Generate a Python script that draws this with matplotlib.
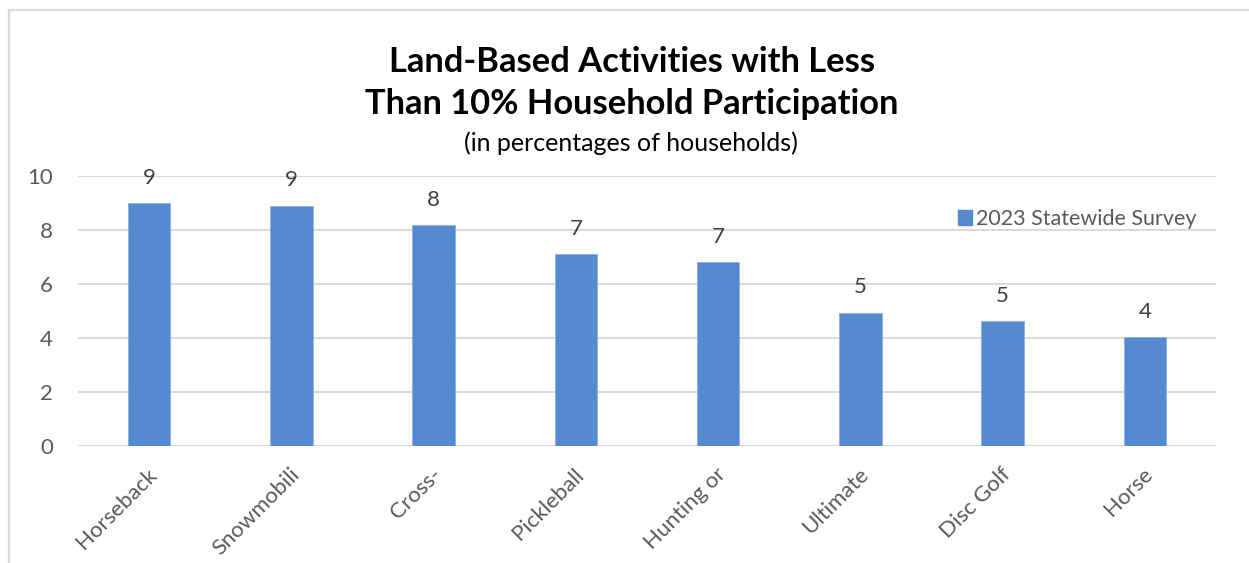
import matplotlib
matplotlib.use("Agg")
import matplotlib.pyplot as plt
import matplotlib.transforms as mtransforms
from matplotlib.lines import Line2D
from matplotlib.patches import Patch

# Activity names as they appear on the category axis
categories = ["Horseback", "Snowmobili", "Cross-", "Pickleball",
              "Hunting or", "Ultimate", "Disc Golf", "Horse"]
# Share of households taking part (percent)
participation = [8.98, 8.89, 8.17, 7.09, 6.79, 4.93, 4.62, 4.03]
series_name = "2023 Statewide Survey"
y_ticks = [0, 2, 4, 6, 8, 10]

title_lines = ["Land-Based Activities with Less",
               "Than 10% Household Participation"]
subtitle = "(in percentages of households)"

W, H, DPI = 1249, 563, 100
BAR = "#5589d0"
GRID = "#d9d9d9"
TICK = "#595959"
LABEL = "#404040"
FONT = "Lato"

plt.rcParams["font.family"] = [FONT, "DejaVu Sans"]

fig = plt.figure(figsize=(W / DPI, H / DPI), dpi=DPI)
fig.patch.set_facecolor("white")

def fx(px):
    return px / W

def fy(py):
    return 1 - py / H

# chart frame (top and left edges visible)
fig.add_artist(Line2D([fx(8.5), 1.01], [fy(10), fy(10)], color=GRID, lw=1.6))
fig.add_artist(Line2D([fx(8.5), fx(8.5)], [-0.01, fy(10)], color=GRID, lw=1.6))

ax_left, ax_right = 78, 1216
ax_top, ax_bottom = 175.7, 445.7
ax = fig.add_axes([fx(ax_left), fy(ax_bottom),
                   fx(ax_right - ax_left), (ax_bottom - ax_top) / H])

x = list(range(len(categories)))
bars = ax.bar(x, participation, width=0.30, color=BAR, edgecolor="#8fb2e3",
              linewidth=0.6, zorder=3, label=series_name)

ax.set_xlim(-0.5, len(categories) - 0.5)
ax.set_ylim(0, 10)
ax.set_yticks(y_ticks)
ax.set_yticklabels([str(t) for t in y_ticks])
ax.grid(axis="y", color=GRID, lw=1.4, zorder=0)
for s in ax.spines.values():
    s.set_visible(False)
ax.tick_params(axis="y", length=0, pad=18, labelsize=16, labelcolor=TICK)
ax.tick_params(axis="x", length=0, pad=2, labelsize=16, labelcolor=TICK)

ax.set_xticks(x)
ax.set_xticklabels(categories, rotation=45, rotation_mode="anchor",
                   ha="right", va="center")
shift = mtransforms.ScaledTranslation(5 / DPI, -23 / DPI, fig.dpi_scale_trans)
for lbl in ax.get_xticklabels():
    lbl.set_transform(lbl.get_transform() + shift)

# value labels above each bar
ax.bar_label(bars, labels=[f"{v:.0f}" for v in participation],
             padding=11, fontsize=16, color=LABEL)

# titles
fig.text(fx(632), fy(62), title_lines[0], ha="center", va="center",
         fontsize=24.8, fontweight="bold", color="black")
fig.text(fx(632), fy(104), title_lines[1], ha="center", va="center",
         fontsize=24.8, fontweight="bold", color="black")
fig.text(fx(631), fy(143), subtitle, ha="center", va="center",
         fontsize=18, color="black")

handle = Patch(facecolor=BAR, edgecolor=BAR)
ax.legend([handle], [series_name], loc="center left",
          bbox_to_anchor=(fx(958), fy(219)), bbox_transform=fig.transFigure,
          frameon=False, fontsize=15.5, labelcolor=TICK, borderpad=0,
          borderaxespad=0, handlelength=0.65, handleheight=0.65,
          handletextpad=0.2)

fig.savefig("out.png", dpi=DPI, facecolor="white")
